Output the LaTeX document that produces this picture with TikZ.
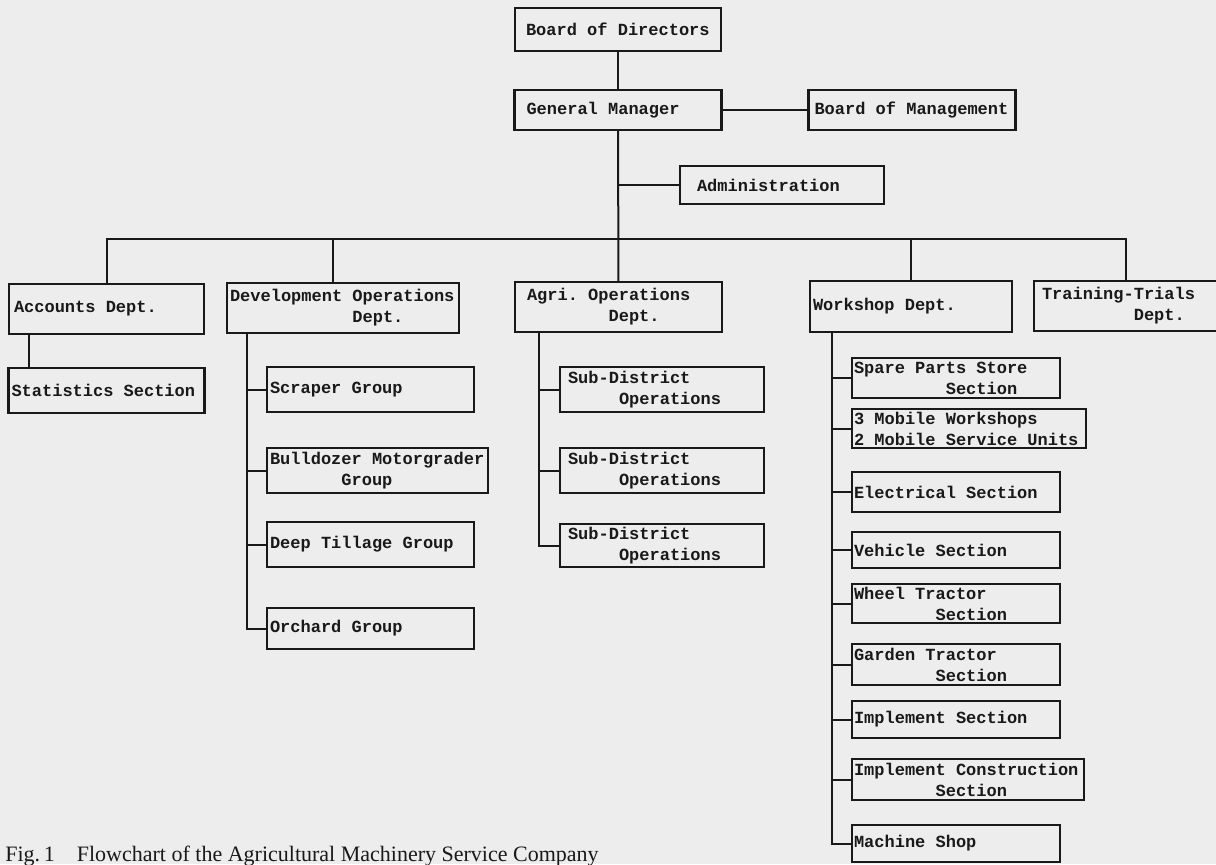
\documentclass[tikz,border=0pt]{standalone}
\usepackage{fontspec}
\newfontfamily\typewriter{Liberation Mono}
\newfontfamily\captionserif{Liberation Serif}
\usepackage{tikz}
\usetikzlibrary{positioning}
\definecolor{paper}{gray}{0.93}
\definecolor{ink}{gray}{0.1}
% typewriter text of the boxes
\newcommand{\boxfont}{\typewriter\bfseries\fontsize{8.5}{10.5}\selectfont}
% every space one character wide (align=left narrows them)
\newcommand{\fullspaces}{\spaceskip 0.6em\xspaceskip 0.6em\relax}
% indent by n typewriter characters
\newcommand{\ind}[1]{\hspace*{\dimexpr 0.6em*#1\relax}}

\begin{document}
\begin{tikzpicture}[x=0.5pt, y=-0.5pt,
unit/.style={
% The shape:
rectangle, anchor=north west, outer sep=0pt,
% The border:
draw=ink, line width=1.1pt,
% The text:
align=left, inner ysep=0pt, text=ink,
font=\boxfont, execute at begin node=\fullspaces
},
grp/.style={unit, inner xsep=1.5pt, text width=100.5pt, minimum height=22.5pt},
subd/.style={unit, inner xsep=4pt, text width=94pt, minimum height=22.5pt},
sect/.style={unit, inner xsep=1pt, text width=102pt, minimum height=20pt},
link/.style={draw=ink, line width=1pt}]

\useasboundingbox (0,0) rectangle (1216,864);
\fill[paper] (0,0) rectangle (1216,864);

% top of the chart
\node (bod) [unit, inner xsep=5.5pt, text width=92pt, minimum height=21.5pt] at (515,8) {Board of Directors};
\node (gm) [unit, inner xsep=6pt, text width=91.5pt, minimum height=20pt, below=19.5pt of bod] {General Manager};
\node (bom) [unit, inner xsep=3pt, text width=97.5pt, minimum height=20pt, right=43.5pt of gm] {Board of Management};
\node (adm) [unit, inner xsep=8.5pt, text width=85pt, minimum height=19pt] at (680,166) {Administration};

% departments
\node (acc) [unit, inner xsep=2.5pt, text width=92.5pt, minimum height=25pt] at (9,284) {Accounts Dept.};
\node (dev) [unit, inner xsep=1.5pt, text width=113pt, minimum height=25pt] at (227,283) {Development Operations\\\ind{12}Dept.};
\node (agri) [unit, inner xsep=6pt, text width=91.5pt, minimum height=25pt] at (515,282) {Agri. Operations\\\ind{8}Dept.};
\node (work) [unit, inner xsep=1.5pt, text width=98pt, minimum height=25.5pt] at (810,281) {Workshop Dept.};
\node (train) [unit, inner xsep=4pt, text width=84pt, minimum height=25pt] at (1034,281) {Training-Trials\\\ind{9}Dept.};

\node (stat) [unit, inner xsep=1.5pt, text width=95pt, minimum height=22.5pt, below=17pt of acc] {Statistics Section};

\node (scr) [grp, below right=17pt and 20pt of dev.south west] {Scraper Group};
\node (bull) [grp, text width=107.5pt, below=18pt of scr.south west, anchor=north west] {Bulldozer Motorgrader\\\ind{7}Group};
\node (deep) [grp, below=14.5pt of bull.south west, anchor=north west] {Deep Tillage Group};
\node (orch) [grp, minimum height=20.5pt, below=20.5pt of deep.south west, anchor=north west] {Orchard Group};

\node (sub1) [subd, below right=17.5pt and 22.5pt of agri.south west] {Sub-District\\\ind{5}Operations};
\node (sub2) [subd, below=18pt of sub1.south west, anchor=north west] {Sub-District\\\ind{5}Operations};
\node (sub3) [subd, minimum height=21.5pt, below=15.5pt of sub2.south west, anchor=north west] {Sub-District\\\ind{5}Operations};

\node (spare) [sect, below right=13pt and 21pt of work.south west] {Spare Parts Store\\\ind{9}Section};
\node (mob) [sect, text width=115pt, minimum height=19.5pt, below=5.5pt of spare.south west, anchor=north west] {3 Mobile Workshops\\2 Mobile Service Units};
\node (elec) [sect, below=12pt of mob.south west, anchor=north west] {Electrical Section};
\node (veh) [sect, minimum height=18pt, below=10pt of elec.south west, anchor=north west] {Vehicle Section};
\node (whl) [sect, minimum height=19.5pt, below=8pt of veh.south west, anchor=north west] {Wheel Tractor\\\ind{8}Section};
\node (gdn) [sect, minimum height=20.5pt, below=10.5pt of whl.south west, anchor=north west] {Garden Tractor\\\ind{8}Section};
\node (impl) [sect, minimum height=18.5pt, below=8pt of gdn.south west, anchor=north west] {Implement Section};
\node (implc) [sect, text width=114pt, minimum height=20.5pt, below=10.5pt of impl.south west, anchor=north west] {Implement Construction\\\ind{8}Section};
\node (mach) [sect, minimum height=18.5pt, below=12.5pt of implc.south west, anchor=north west] {Machine Shop};

\node (cap) [anchor=base west, inner sep=0pt, text=ink, font=\captionserif\fontsize{11}{13}\selectfont] at (5,861) {Fig.\,1\quad Flowchart of the Agricultural Machinery Service Company};

% lines
\coordinate (bus) at (618.5,239);
\path[link] (bod) edge (gm) (gm) edge (bom);
\draw[link] (gm) -- (agri);
\draw[link] (adm) -- (adm -| gm.south);
\draw[link] (acc) |- (bus) -| (train);
\draw[link] ([xshift=53pt]dev.north west) -- ([xshift=53pt]dev.north west |- bus);
\draw[link] (work) -- (work |- bus);

\draw[link] ([xshift=10pt]acc.south west) -- ([xshift=10pt]acc.south west |- stat.north);

\draw[link] ([xshift=10pt]dev.south west) |- (orch);
\foreach \g in {scr,bull,deep}
  \draw[link] (\g.west) -- ++(-10pt,0);

\draw[link] ([xshift=12pt]agri.south west) |- (sub3);
\foreach \g in {sub1,sub2}
  \draw[link] (\g.west) -- ++(-10.5pt,0);

\draw[link] ([xshift=11pt]work.south west) |- (mach);
\foreach \g in {spare,mob,elec,veh,whl,gdn,impl,implc}
  \draw[link] (\g.west) -- ++(-10pt,0);
\end{tikzpicture}
\end{document}
